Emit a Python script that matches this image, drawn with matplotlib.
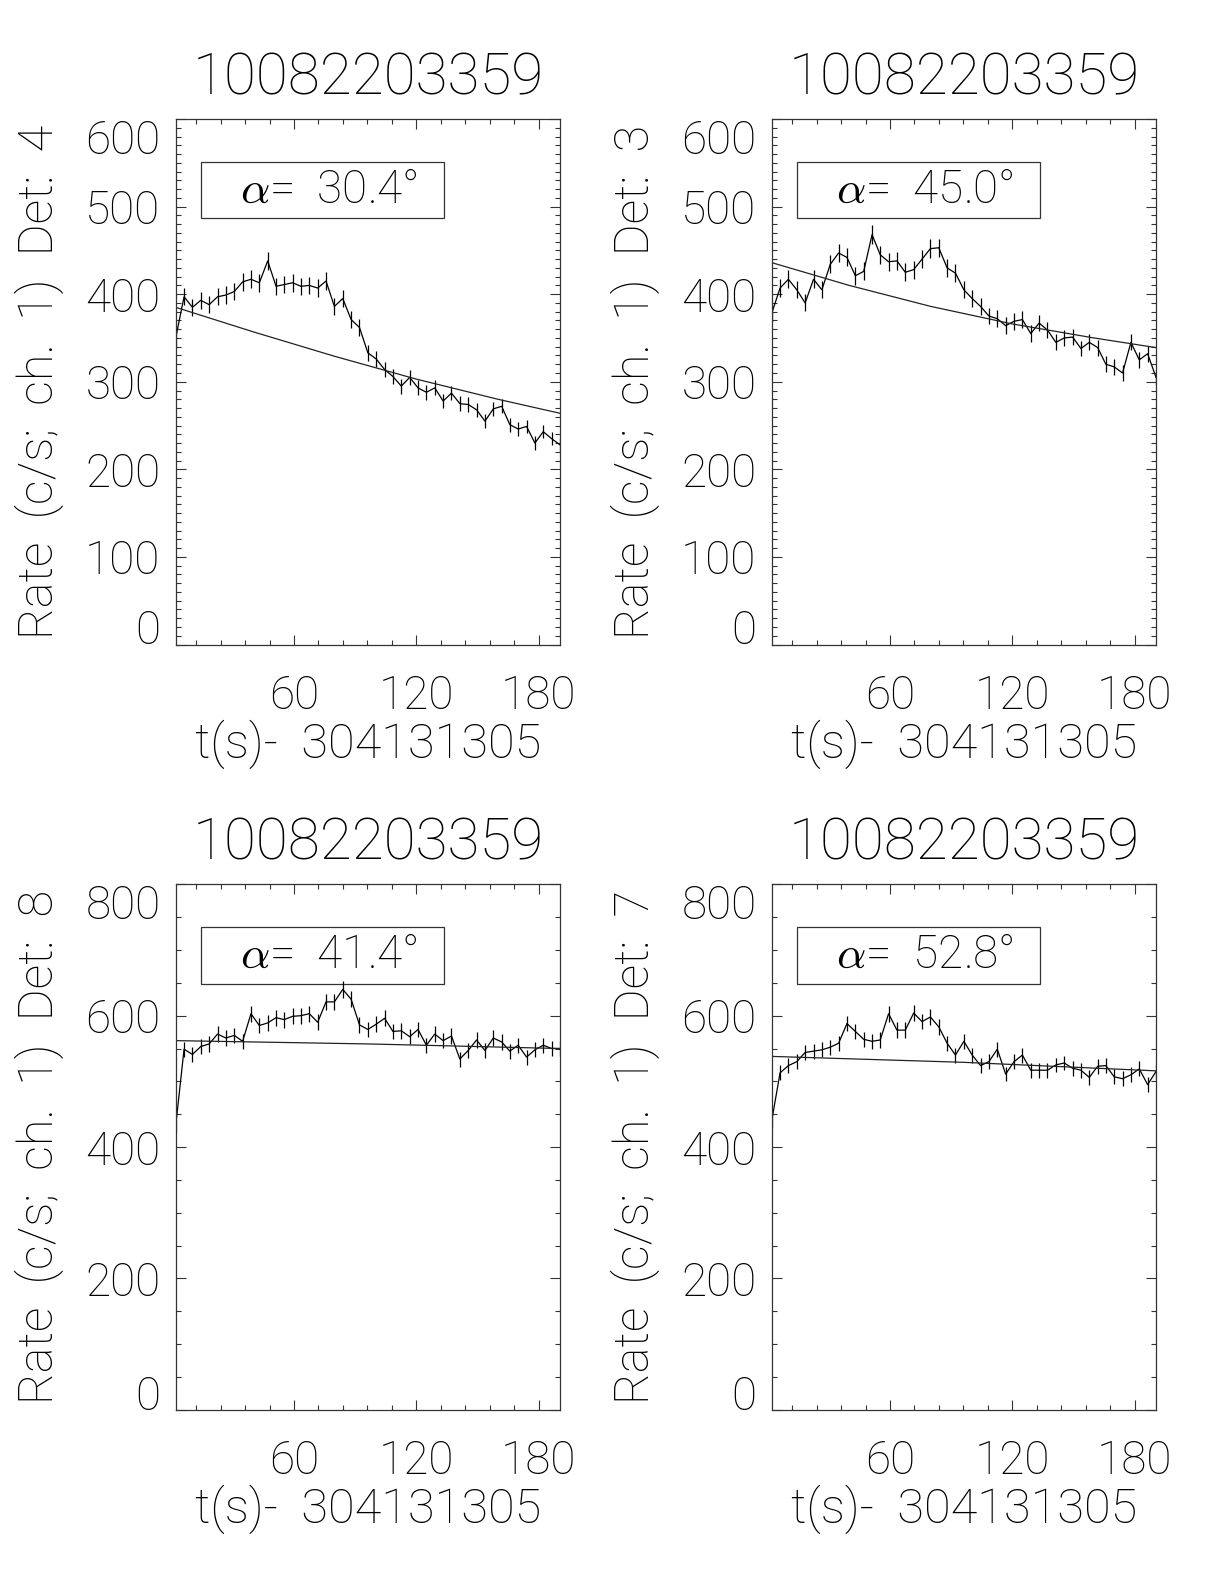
import matplotlib
matplotlib.use('Agg')
import matplotlib.pyplot as plt
import numpy as np
from matplotlib.patches import Rectangle
from matplotlib.ticker import MultipleLocator

plt.rcParams['font.family'] = ['Roboto', 'DejaVu Sans']
plt.rcParams['font.weight'] = 'light'
plt.rcParams['axes.labelweight'] = 'light'
plt.rcParams['mathtext.fontset'] = 'cm'

# data
title = '10082203359'
t_ref = '304131305'
bin_width = 4.096
t = [2.0, 6.1, 10.2, 14.3, 18.4, 22.5, 26.6, 30.7, 34.8, 38.9, 43.0, 47.1,
     51.2, 55.2, 59.3, 63.4, 67.5, 71.6, 75.7, 79.8, 83.9, 88.0, 92.1, 96.2,
     100.3, 104.4, 108.5, 112.6, 116.7, 120.8, 124.9, 129.0, 133.1, 137.2,
     141.3, 145.4, 149.5, 153.6, 157.7, 161.8, 165.8, 169.9, 174.0, 178.1,
     182.2, 186.3, 190.4]

rate_det4 = [350, 397, 385, 393, 388, 397, 399, 403, 414, 417, 413, 438,
             409, 411, 413, 409, 410, 407, 415, 386, 395, 371, 362, 333,
             326, 314, 306, 295, 305, 293, 288, 293, 278, 287, 275, 274,
             268, 255, 269, 272, 251, 246, 249, 230, 243, 235, 228]
rate_det3 = [378, 407, 417, 405, 390, 417, 405, 434, 447, 442, 421, 426,
             468, 445, 437, 438, 425, 428, 440, 452, 453, 430, 424, 405,
             395, 386, 375, 372, 364, 369, 371, 355, 367, 359, 345, 350,
             351, 338, 345, 339, 320, 317, 310, 345, 325, 332, 305]
rate_det8 = [432, 549, 541, 553, 557, 572, 566, 570, 561, 603, 585, 589,
             597, 594, 599, 600, 603, 590, 621, 621, 640, 625, 586, 579,
             587, 596, 576, 577, 568, 579, 555, 572, 562, 569, 534, 547,
             563, 547, 566, 560, 546, 555, 537, 548, 555, 550, 550]
rate_det7 = [440, 513, 524, 530, 544, 546, 548, 552, 558, 588, 576, 564,
             561, 563, 603, 578, 578, 604, 591, 598, 583, 558, 540, 561,
             540, 524, 530, 549, 511, 530, 540, 517, 517, 517, 525, 528,
             520, 517, 506, 523, 524, 507, 504, 510, 519, 495, 515]

fit_t_det4 = [2.0, 40.0, 80.0, 120.0, 160.0, 190.4]
fit_det4 = [385, 357, 329, 303, 280, 264]
fit_t_det3 = [2.0, 40.0, 80.0, 120.0, 160.0, 190.4]
fit_det3 = [436, 410, 386, 366, 350, 339]
fit_t_det8 = [2.0, 96.0, 190.4]
fit_det8 = [562, 557, 550]
fit_t_det7 = [2.0, 96.0, 190.4]
fit_det7 = [538, 529, 516]

dets = ['4', '3', '8', '7']
alphas = ['30.4', '45.0', '41.4', '52.8']
rates = [rate_det4, rate_det3, rate_det8, rate_det7]
fit_ts = [fit_t_det4, fit_t_det3, fit_t_det8, fit_t_det7]
fits = [fit_det4, fit_det3, fit_det8, fit_det7]
ymaxs = [600, 600, 800, 800]

W, H = 1224, 1584
fig = plt.figure(figsize=(W / 100, H / 100), dpi=100)

lefts = [175.7, 771.7, 175.7, 771.7]
tops = [119, 119, 884.3, 884.3]
aw, ah = 384.3, 525.5
fs = 33

for i in range(4):
    ax = fig.add_axes([lefts[i] / W, 1 - (tops[i] + ah) / H, aw / W, ah / H])
    r = np.array(rates[i], dtype=float)
    err = np.sqrt(r / bin_width)
    ax.plot(t, r, color='black', lw=0.9)
    ax.errorbar(t, r, yerr=err, fmt='none', ecolor='black', elinewidth=0.9, capsize=0)
    ax.plot(fit_ts[i], fits[i], color='#222222', lw=0.9)

    ax.set_xlim(t[0], t[-1])
    ax.set_ylim(0, ymaxs[i])
    ax.xaxis.set_major_locator(MultipleLocator(60))
    ax.xaxis.set_minor_locator(MultipleLocator(12))
    if ymaxs[i] == 600:
        ax.yaxis.set_major_locator(MultipleLocator(100))
        ax.yaxis.set_minor_locator(MultipleLocator(10))
    else:
        ax.yaxis.set_major_locator(MultipleLocator(200))
        ax.yaxis.set_minor_locator(MultipleLocator(50))
    ax.tick_params(which='both', direction='in', top=True, right=True,
                   width=0.8, color='#333333')
    ax.tick_params(which='major', length=7, labelsize=fs)
    ax.tick_params(which='minor', length=3.5)
    ax.tick_params(axis='x', pad=21)
    ax.tick_params(axis='y', pad=11)
    for s in ax.spines.values():
        s.set_linewidth(0.9)
        s.set_color('#333333')

    # first and last y labels sit inside the axis range
    locs = ax.yaxis.get_majorticklocs()
    for tick, loc in zip(ax.yaxis.get_major_ticks(len(locs)), locs):
        if abs(loc) < 1e-6:
            tick.label1.set_va('baseline')
        elif abs(loc - ymaxs[i]) < 1e-6:
            tick.label1.set_va('top')

    ax.set_xlabel('t(s)-  ' + t_ref, fontsize=35, fontweight='light')
    ax.xaxis.set_label_coords(0.5, -100 / ah)
    ax.xaxis.label.set_va('center')
    ax.set_ylabel('Rate  (c/s;  ch.  1)  Det:  ' + dets[i], fontsize=35,
                  fontweight='light')
    ax.yaxis.set_label_coords(-136 / aw, 0.5)
    ax.yaxis.label.set_va('center')

    ax.text(0.5, 1 + 40 / ah, title, transform=ax.transAxes, fontsize=42,
            ha='center', va='center')

    ax.add_patch(Rectangle((0.065, 0.811), 0.632, 0.107, transform=ax.transAxes,
                           fill=False, lw=0.9, ec='#333333'))
    ax.text(0.40, 0.866, r'$\alpha$=  ' + alphas[i] + '°', transform=ax.transAxes,
            fontsize=fs, ha='center', va='center')

fig.savefig('out.png', dpi=100)
